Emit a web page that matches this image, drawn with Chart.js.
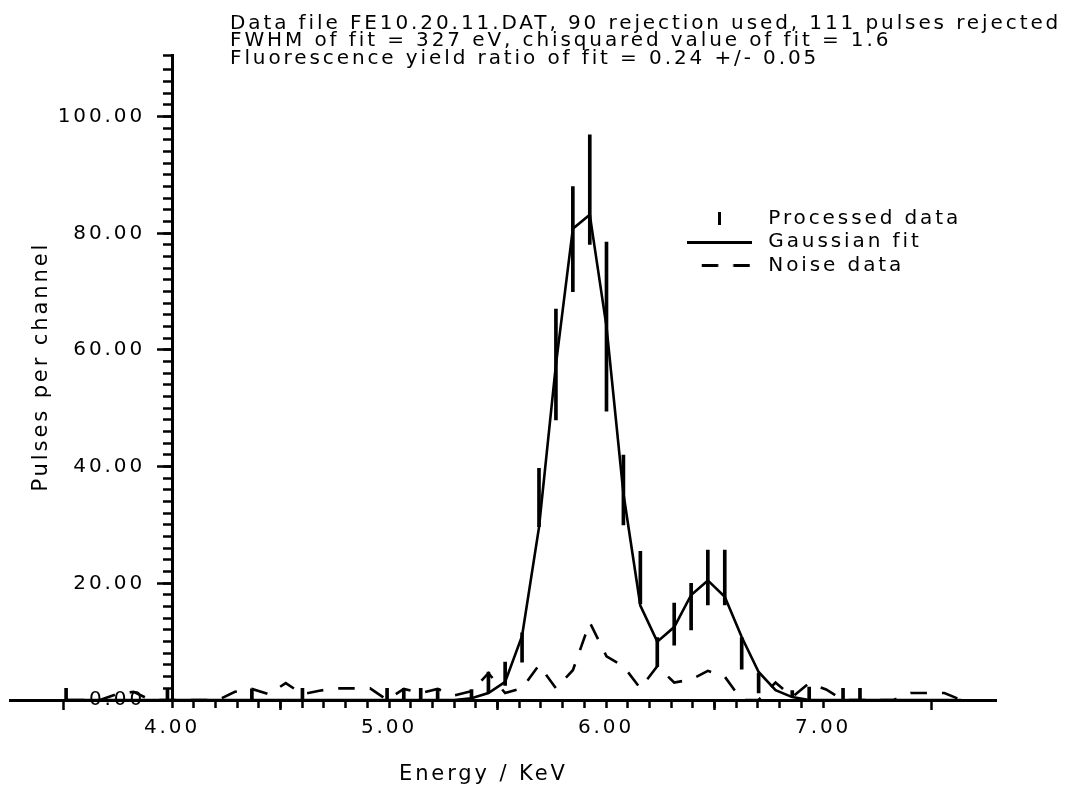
<!DOCTYPE html>
<html><head><meta charset="utf-8">
<script src="https://cdn.jsdelivr.net/npm/chart.js@4.4.1/dist/chart.umd.min.js"></script>
<style>html,body{margin:0;padding:0;background:#fff}canvas{display:block}</style>
</head><body>
<canvas id="c" width="1066" height="788"></canvas>
<script>
// ---- data ----
const energies = [3.512, 3.590, 3.668, 3.745, 3.823, 3.901, 3.979, 4.057, 4.134, 4.212, 4.290, 4.368, 4.446, 4.524, 4.601, 4.679, 4.757, 4.835, 4.913, 4.991, 5.068, 5.146, 5.224, 5.302, 5.380, 5.458, 5.535, 5.613, 5.691, 5.769, 5.847, 5.925, 6.002, 6.080, 6.158, 6.236, 6.314, 6.392, 6.469, 6.547, 6.625, 6.703, 6.781, 6.858, 6.936, 7.014, 7.092, 7.170, 7.248, 7.325, 7.403, 7.481, 7.559, 7.637];
const processedValues = [1, null, null, null, null, null, 1, null, null, null, null, 1, null, null, 1, null, null, null, null, 1, 1, 1, 1, null, 0.9, 3, 4.5, 9, 34.7, 57.5, 79, 87.5, 64, 36, 21, 8.2, 13, 16, 21, 21, 8, 2.9, null, 1, 1.1, null, 1, 1, null, null, null, null, null, null];
const processedErrors = [1, null, null, null, null, null, 1, null, null, null, null, 0.9, null, null, 1, null, null, null, null, 1, 1, 1, 1, null, 0.9, 1.8, 2, 2.5, 5, 9.5, 9, 9.4, 14.5, 6, 4.5, 2.5, 3.6, 4, 4.7, 4.7, 2.7, 1.7, null, 0.6, 1.1, null, 1, 1, null, null, null, null, null, null];
const fitValues = [0, 0, 0, 0, 0, 0, 0, 0, 0, 0, 0, 0, 0, 0, 0, 0, 0, 0, 0, 0, 0, 0, 0, 0, 0.3, 1.2, 3.1, 11, 29.6, 57.5, 80.8, 83.2, 64, 35.4, 16.2, 10, 12.5, 18, 20.5, 17.7, 10.8, 4.8, 1.7, 0.5, 0, 0, 0, 0, 0, 0, 0, 0, 0, 0];
const noiseValues = [0, 0, 0, 1.0, 1.4, 0, 0, 0, 0, 0, 1.4, 1.9, 1.0, 2.9, 1.0, 1.6, 2.0, 2.0, 2.0, 0, 1.9, 1.2, 1.9, 0.8, 1.5, 4.6, 1.2, 2.0, 6.0, 2.0, 5.1, 13.3, 7.5, 5.8, 2.0, 5.8, 3.0, 3.5, 5.0, 4.0, 0, 0, 3.0, 0.5, 2.9, 1.8, 0, 0, 0, 0, 1.2, 1.2, 1.2, 0];
const xMajorTicks = [4, 5, 6, 7];
const yMajorTicks = [0, 20, 40, 60, 80, 100];
const titleLines = [
  'Data file FE10.20.11.DAT, 90 rejection used, 111 pulses rejected',
  'FWHM of fit = 327 eV, chisquared value of fit = 1.6',
  'Fluorescence yield ratio of fit = 0.24 +/- 0.05'
];

// ---- build datasets ----
const barData = [];
energies.forEach((e, i) => {
  if (processedValues[i] !== null) {
    barData.push({x: e, y: [Math.max(0, processedValues[i] - processedErrors[i]), processedValues[i] + processedErrors[i]]});
  }
});
const fitData = energies.map((e, i) => ({x: e, y: fitValues[i]}));
const noiseData = energies.map((e, i) => ({x: e, y: noiseValues[i]}));

const X_MIN = 3.2535, X_MAX = 7.8, Y_MIN = 0, Y_MAX = 110.5;
const LS = '2.9px';

Chart.defaults.font.family = "'DejaVu Sans', sans-serif";
Chart.defaults.color = '#000';

// legend symbols
function symbol(kind) {
  const c = document.createElement('canvas');
  if (kind === 'bar') { c.width = 3; c.height = 13; }
  else { c.width = 65; c.height = 3; }
  const g = c.getContext('2d');
  g.fillStyle = '#000';
  if (kind === 'bar') g.fillRect(0, 0, 3, 13);
  else if (kind === 'line') g.fillRect(0, 0, 65, 3);
  else { g.fillRect(15, 0, 16.5, 3); g.fillRect(46.5, 0, 16.5, 3); }
  return c;
}
const legendSymbols = [symbol('bar'), symbol('line'), symbol('dash')];

const spacingPlugin = {
  id: 'spacing',
  beforeUpdate(chart) { chart.ctx.letterSpacing = LS; },
  beforeLayout(chart) { chart.ctx.letterSpacing = LS; },
  beforeDraw(chart) { chart.ctx.letterSpacing = LS; }
};
const placePlugin = {
  id: 'place',
  afterLayout(chart) {
    const t = chart.titleBlock;
    const dx = 230 - t.left;
    t.left += dx; t.right += dx; t.top += 15; t.bottom += 15;
    const lg = chart.legend;
    const w = lg.width;
    lg.left = 676.6; lg.right = lg.left + w;
    lg.top = 205; lg.bottom = lg.top + 300;
    const yt = chart.scales.yTitle;
    yt.top -= 11; yt.bottom -= 11;
    const xt = chart.scales.xTitle;
    xt.left -= 20; xt.right -= 20; xt.top = 788; xt.bottom = 788;
  }
};

const tickGrid = (len) => ({display: true, drawOnChartArea: false, drawTicks: true, tickLength: len, tickColor: '#000', tickWidth: 2.5});
const hiddenGrid = {display: false, drawTicks: false};

new Chart(document.getElementById('c'), {
  type: 'line',
  data: {
    datasets: [
      {type: 'bar', label: 'Processed data', data: barData, backgroundColor: '#000', borderWidth: 0, barThickness: 3, xAxisID: 'x', yAxisID: 'y'},
      {type: 'line', label: 'Gaussian fit', data: fitData, borderColor: '#000', borderWidth: 2.6, pointRadius: 0, tension: 0, fill: false, xAxisID: 'x', yAxisID: 'y'},
      {type: 'line', label: 'Noise data', data: noiseData, borderColor: '#000', borderWidth: 2.6, borderDash: [16.5, 15], borderDashOffset: 29.8, pointRadius: 0, tension: 0, fill: false, xAxisID: 'x', yAxisID: 'y'}
    ]
  },
  options: {
    responsive: false,
    devicePixelRatio: 1,
    animation: false,
    events: [],
    layout: {padding: {left: 10, right: 69.3, top: 0, bottom: 0}},
    scales: {
      x: {
        type: 'linear', position: 'bottom', min: X_MIN, max: X_MAX, offset: false,
        border: {display: true, color: '#000', width: 3},
        grid: tickGrid(10),
        ticks: {autoSkip: false, maxRotation: 0, color: '#000', font: {size: 20}, padding: 6, callback: v => Number(v).toFixed(2)},
        afterBuildTicks: s => { s.ticks = xMajorTicks.map(v => ({value: v})); },
        afterFit: s => { s.height = 88; }
      },
      xTitle: {
        type: 'linear', axis: 'x', position: 'bottom', min: X_MIN, max: X_MAX,
        border: {display: false}, grid: hiddenGrid, ticks: {display: false},
        afterFit: s => { s.height = 0; },
        title: {display: true, text: 'Energy / KeV', color: '#000', font: {size: 21}, padding: {top: 0, bottom: 0.4}}
      },
      x2: {
        type: 'linear', axis: 'x', position: {y: 0}, min: X_MIN, max: X_MAX, offset: false,
        border: {display: false},
        grid: tickGrid(8),
        ticks: {display: false, stepSize: 0.1, autoSkip: false},
        afterBuildTicks: s => { s.ticks = s.ticks.filter(t => t.value > 3.999 && t.value < 7.001); }
      },
      y: {
        type: 'linear', position: {x: 4}, min: Y_MIN, max: Y_MAX,
        border: {display: true, color: '#000', width: 3},
        grid: tickGrid(14),
        ticks: {display: false, autoSkip: false},
        afterBuildTicks: s => { s.ticks = yMajorTicks.map(v => ({value: v})); }
      },
      y2: {
        type: 'linear', axis: 'y', position: {x: 4}, min: Y_MIN, max: Y_MAX,
        border: {display: false},
        grid: tickGrid(9),
        ticks: {display: false, stepSize: 2, autoSkip: false}
      },
      yLabels: {
        type: 'linear', axis: 'y', position: {x: 3.8756}, min: Y_MIN, max: Y_MAX,
        border: {display: false},
        grid: hiddenGrid,
        ticks: {autoSkip: false, color: '#000', font: {size: 20}, padding: 0, callback: v => Number(v).toFixed(2)},
        afterBuildTicks: s => { s.ticks = yMajorTicks.map(v => ({value: v})); }
      },
      yTitle: {
        type: 'linear', axis: 'y', position: 'left', min: Y_MIN, max: Y_MAX,
        border: {display: false},
        grid: hiddenGrid,
        ticks: {display: false},
        afterFit: s => { s.width = 0; },
        title: {display: true, text: 'Pulses per channel', color: '#000', font: {size: 21}, padding: {top: 18.5, bottom: 0}}
      }
    },
    plugins: {
      tooltip: {enabled: false},
      title: {
        display: true, text: titleLines, align: 'start', color: '#000',
        font: {size: 20, lineHeight: 0.875, weight: 'normal'},
        padding: {top: 0, bottom: 2.9}
      },
      legend: {
        display: true, position: 'chartArea', align: 'start',
        labels: {
          usePointStyle: true, pointStyleWidth: 78.2, boxHeight: 13, padding: 3.5,
          color: '#000', font: {size: 20},
          generateLabels: chart => chart.data.datasets.map((ds, i) => ({
            text: ds.label, fillStyle: 'rgba(0,0,0,0)', strokeStyle: '#000', lineWidth: 1,
            pointStyle: legendSymbols[i], rotation: 0,
            hidden: false, datasetIndex: i, fontColor: '#000'
          }))
        }
      }
    }
  },
  plugins: [spacingPlugin, placePlugin]
});
</script>
</body></html>
